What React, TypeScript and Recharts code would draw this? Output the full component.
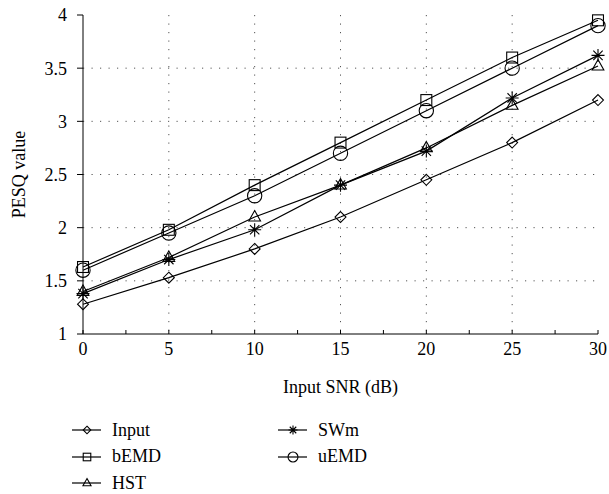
import { LineChart, Line, XAxis, YAxis, CartesianGrid } from 'recharts'

const snr = [0, 5, 10, 15, 20, 25, 30]
const input = [1.28, 1.53, 1.8, 2.1, 2.45, 2.8, 3.2]
const bEMD = [1.63, 1.98, 2.4, 2.8, 3.2, 3.6, 3.95]
const hst = [1.4, 1.72, 2.1, 2.4, 2.75, 3.15, 3.52]
const sWm = [1.38, 1.7, 1.98, 2.4, 2.72, 3.22, 3.62]
const uEMD = [1.6, 1.95, 2.3, 2.7, 3.1, 3.5, 3.9]

const xTicks = [0, 2.5, 5, 7.5, 10, 12.5, 15, 17.5, 20, 22.5, 25, 27.5, 30]
const yTicks = [1, 1.5, 2, 2.5, 3, 3.5, 4]
const gridX = [5, 10, 15, 20, 25]
const gridY = [1.5, 2, 2.5, 3, 3.5]

const data = snr.map((s, i) => ({ snr: s, input: input[i], bEMD: bEMD[i], hst: hst[i], sWm: sWm[i], uEMD: uEMD[i] }))

type Shape = 'diamond' | 'square' | 'triangle' | 'star' | 'circle'

const series: { key: string; name: string; shape: Shape }[] = [
  { key: 'input', name: 'Input', shape: 'diamond' },
  { key: 'bEMD', name: 'bEMD', shape: 'square' },
  { key: 'hst', name: 'HST', shape: 'triangle' },
  { key: 'sWm', name: 'SWm', shape: 'star' },
  { key: 'uEMD', name: 'uEMD', shape: 'circle' },
]

const FONT = 'Liberation Serif'

function marker(shape: Shape, cx: number, cy: number, s: number, key?: string) {
  const p = { fill: 'none', stroke: '#000', strokeWidth: 1.1 }
  if (shape === 'circle') return <circle key={key} cx={cx} cy={cy} r={s * 0.55} {...p} />
  if (shape === 'square') return <rect key={key} x={cx - s * 0.42} y={cy - s * 0.42} width={s * 0.84} height={s * 0.84} {...p} />
  if (shape === 'diamond') {
    const r = s * 0.42
    return <path key={key} d={`M${cx},${cy - r}L${cx + r},${cy}L${cx},${cy + r}L${cx - r},${cy}Z`} {...p} />
  }
  if (shape === 'triangle') {
    const r = s * 0.5
    return <path key={key} d={`M${cx},${cy - r}L${cx + r * 0.9},${cy + r * 0.6}L${cx - r * 0.9},${cy + r * 0.6}Z`} {...p} />
  }
  const r = s * 0.5
  const d = r * 0.72
  return (
    <path key={key} d={`M${cx},${cy - r}V${cy + r}M${cx - r},${cy}H${cx + r}M${cx - d},${cy - d}L${cx + d},${cy + d}M${cx - d},${cy + d}L${cx + d},${cy - d}`} {...p} />
  )
}

// inward minor ticks on the bottom axis, labels only every 5 dB
function XTick(props: any) {
  const { x, y, payload } = props
  const v = payload.value as number
  return (
    <g>
      <line x1={x} y1={334} x2={x} y2={330} stroke="#000" />
      {v % 5 === 0 && (
        <text x={x} y={y} dy={17} textAnchor="middle" fontSize={18} fill="#000" fontFamily={FONT}>{v}</text>
      )}
    </g>
  )
}

export default function App() {
  return (
    <div style={{ position: 'absolute', left: 0, top: 0, width: 609, height: 494, background: '#fff', fontFamily: FONT }}>
      <LineChart width={609} height={494} data={data} margin={{ top: 15, right: 11, bottom: 110, left: 0 }}>
        <CartesianGrid horizontalValues={gridY} verticalValues={gridX} stroke="#555" strokeDasharray="1.2 7.3" strokeWidth={1} />
        <XAxis
          dataKey="snr"
          type="number"
          domain={[0, 30]}
          ticks={xTicks}
          interval={0}
          height={50}
          stroke="#000"
          tickLine={false}
          tickSize={0}
          tickMargin={4}
          tick={<XTick />}
          label={{ value: 'Input SNR (dB)', position: 'center', dy: 28, fontSize: 18, fill: '#000', fontFamily: FONT }}
        />
        <XAxis xAxisId="top" orientation="top" dataKey="snr" type="number" domain={[0, 30]} height={0} tick={false} tickLine={false} stroke="#000" />
        <YAxis
          type="number"
          domain={[1, 4]}
          ticks={yTicks}
          interval={0}
          width={83}
          stroke="#000"
          tickSize={6}
          tickMargin={10}
          tick={{ fontSize: 18, fill: '#000', fontFamily: FONT }}
          label={{ value: 'PESQ value', angle: -90, position: 'center', dx: -23, fontSize: 18, fill: '#000', fontFamily: FONT }}
        />
        <YAxis yAxisId="right" orientation="right" domain={[1, 4]} width={0} tick={false} tickLine={false} stroke="#000" />
        {series.map(s => (
          <Line
            key={s.key}
            dataKey={s.key}
            name={s.name}
            stroke="#000"
            strokeWidth={1.2}
            isAnimationActive={false}
            dot={(props: any) => marker(s.shape, props.cx, props.cy, 13, `${s.key}-${props.index}`)}
            activeDot={false}
          />
        ))}
      </LineChart>
      {series.map((s, i) => {
        const col = i < 3 ? 0 : 1
        const row = i < 3 ? i : i - 3
        const lx = col === 0 ? 72 : 278
        const cy = 430 + row * 26.5
        return (
          <div key={s.key} style={{ position: 'absolute', left: lx, top: cy - 12, height: 24, display: 'flex', alignItems: 'center' }}>
            <svg width={30} height={24}>
              <line x1={0} y1={12} x2={29} y2={12} stroke="#000" strokeWidth={1.2} />
              {marker(s.shape, 15, 12, 9)}
            </svg>
            <span style={{ marginLeft: 10, fontSize: 18, color: '#000' }}>{s.name}</span>
          </div>
        )
      })}
    </div>
  )
}
